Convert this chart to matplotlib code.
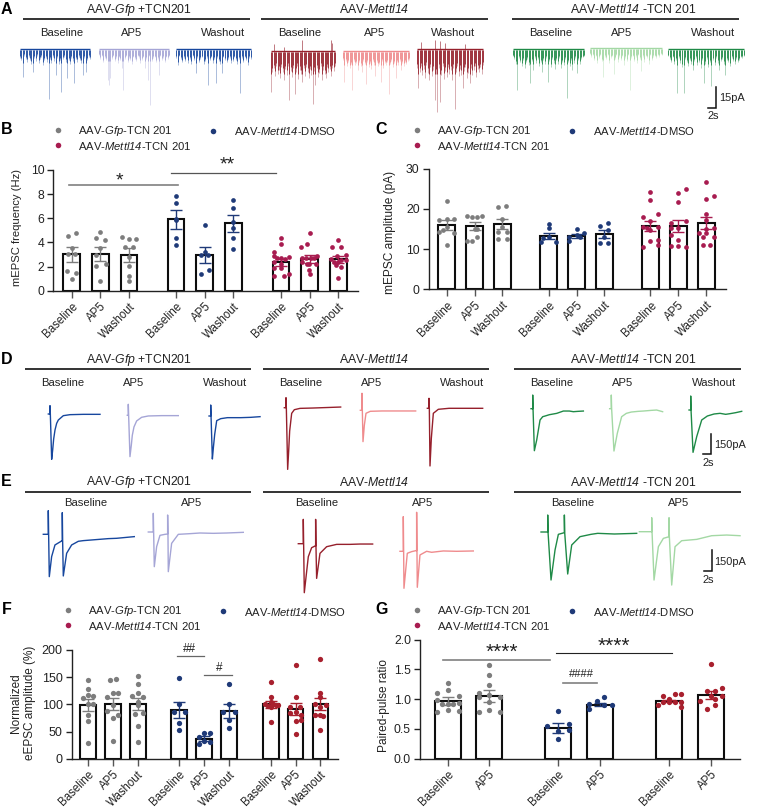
import matplotlib
matplotlib.use("Agg")
import matplotlib.pyplot as plt

plt.rcParams['font.family'] = ['Liberation Sans', 'DejaVu Sans']
plt.rcParams['mathtext.fontset'] = 'custom'
plt.rcParams['mathtext.rm'] = 'Liberation Sans'
plt.rcParams['mathtext.it'] = 'Liberation Sans:italic'
# digits stay upright in mathtext italics, so the italic face is mapped on to \mathbf
plt.rcParams['mathtext.bf'] = 'Liberation Sans:italic'

W, H = 761, 810
GRAY, NAVY, PINK, BRICK = '#7d7d7d', '#1f3a78', '#a81c50', '#a8202e'
BLUE, LAV, DRED, LRED, GREEN, LGREEN = '#17479e', '#a5a5d6', '#96202c', '#ef8b8d', '#1f8a47', '#a3d8a4'
TXT = '#222222'

# ---------- bar panels ----------
LABELS3 = ['Baseline', 'AP5', 'Washout'] * 3
LABELS2 = ['Baseline', 'AP5'] * 3

B_MEAN = [3.0, 3.05, 2.95, 5.9, 2.93, 5.6, 2.35, 2.65, 2.6]
B_SEM = [0.6, 0.6, 0.6, 0.75, 0.65, 0.7, 0.3, 0.33, 0.3]
B_VALUES = [
    [4.53, 4.78, 3.56, 3.0, 3.0, 1.6, 1.5, 0.95],
    [4.86, 4.4, 4.2, 3.5, 2.95, 2.25, 2.05, 0.77],
    [4.45, 4.25, 4.25, 3.65, 3.65, 2.8, 2.07, 1.2, 0.77],
    [7.85, 7.25, 5.9, 5.85, 4.35, 3.78],
    [5.45, 3.2, 2.95, 2.95, 1.7, 1.4],
    [7.55, 6.85, 5.7, 5.2, 4.4, 3.45],
    [4.37, 3.87, 3.17, 2.87, 2.7, 2.8, 2.6, 2.7, 2.4, 2.2, 1.4, 1.85, 1.85, 1.2, 1.2],
    [4.8, 3.9, 3.65, 2.75, 2.75, 2.75, 2.75, 2.85, 2.4, 2.2, 2.25, 1.7, 1.35, 2.2],
    [4.17, 3.6, 3.65, 2.95, 2.9, 2.6, 2.55, 2.55, 2.1, 2.0, 1.08, 2.4, 2.4],
]
B_JITTER = [
    [-11, 12, 0, -11, 11, -13, 13, 0],
    [0, -13, 13, 0, -12, 17, -12, 0],
    [-22, 0, 22, 11, -11, 0, 0, 0, 0],
    [0, 0, 0, 0, 0, 0],
    [0, 0, -11, 11, 12, -11],
    [0, 0, 0, 0, 0, 0],
    [0, 0, -22, -22, 0, 23, 13, -12, -22, 0, 23, -22, 0, -22, 8],
    [0, -7, -27, 13, -12, -22, 3, 23, -22, -2, 18, -2, 0, -9],
    [0, -18, 7, 22, -3, -23, 7, 22, -8, 7, 0, -13, 0],
]
C_MEAN = [16.0, 15.8, 16.2, 13.3, 13.2, 13.8, 15.7, 15.7, 16.4]
C_SEM = [1.2, 1.0, 1.2, 0.8, 0.5, 1.0, 1.3, 1.5, 1.5]
C_VALUES = [
    [22.0, 17.2, 17.5, 17.4, 14.3, 14.7, 14.1, 15.4, 11.1],
    [18.2, 17.9, 18.1, 18.2, 15.0, 12.1, 14.9, 12.1, 13.1],
    [20.4, 20.6, 17.4, 14.3, 14.3, 15.6, 12.5, 12.5],
    [16.2, 15.2, 11.8, 11.8, 13.1, 12.7],
    [15.0, 12.1, 13.5, 13.9, 13.1, 13.0],
    [16.6, 15.7, 14.7, 13.1, 11.4, 11.4],
    [24.2, 22.2, 18.7, 17.9, 16.9, 15.4, 15.6, 14.7, 12.0, 10.4, 12.3, 11.0, 15.2],
    [24.0, 24.9, 21.6, 17.1, 16.4, 15.2, 15.2, 13.5, 12.3, 10.8, 10.4, 10.8],
    [26.7, 23.3, 22.4, 18.8, 17.2, 14.1, 15.2, 15.0, 12.9, 13.9, 10.9, 10.9, 13.1],
]
C_JITTER = [
    [0, -22, 0, 22, -22, -10, 22, 0, 0],
    [-22, -7, 8, 21, 0, -22, 8, -7, 8],
    [-13, 12, 0, -13, 13, 0, -13, 13],
    [0, 0, -22, 21, 0, -16],
    [0, -23, 0, 23, -23, 11],
    [12, -13, 12, 0, -13, 12],
    [0, 0, 22, -21, 0, -21, 22, 0, 0, -21, 22, 22, -11],
    [0, 22, 0, 22, -22, 0, -22, -22, 0, 0, 22, -22],
    [0, 22, 0, 0, 0, -22, 22, 0, 22, 0, -11, 11, -11],
]
F_MEAN = [99, 100, 100, 89, 37, 88, 100, 91, 101]
F_SEM = [11, 11, 11, 15, 5, 13, 6, 11, 11]
F_VALUES = [
    [144, 128, 111, 115, 117, 100, 100, 80, 70, 29.5],
    [145, 147, 121, 113, 121, 99, 88, 80, 74, 32],
    [153, 137, 121, 115, 114, 105, 99, 85, 82, 60, 31],
    [149, 100, 86, 86, 65, 53],
    [48, 48, 40, 33, 31, 27],
    [138, 100, 86, 86, 71, 56],
    [141, 113, 100, 99, 105, 100, 97, 99, 96, 67],
    [172, 113, 96, 96, 86, 85, 80, 70, 71, 45],
    [183, 121, 113, 100, 99, 96, 80, 80, 78, 52],
]
F_JITTER = [
    [0, 0, -16, 16, 0, 0, 16, 0, 0, 0],
    [-9, 8, 0, -17, 16, 0, -17, 16, 0, 0],
    [0, 0, 0, -17, 17, 0, 0, 17, -8, 0, 0],
    [0, 0, -16, 17, 0, 0],
    [0, 17, -16, 0, 17, -16],
    [0, 0, -17, 18, 0, 0],
    [0, 0, -16, 16, 0, 8, -7, 23, 0, 0],
    [0, 0, -16, 14, 0, -16, 17, 0, 17, 0],
    [0, 0, 0, -16, 16, 0, -16, 0, 9, 0],
]
G_MEAN = [0.97, 1.06, 0.52, 0.91, 0.97, 1.07]
G_SEM = [0.07, 0.10, 0.08, 0.03, 0.02, 0.07]
G_VALUES = [
    [1.28, 1.15, 1.1, 1.06, 0.98, 0.93, 0.92, 0.92, 0.92, 0.78, 0.82, 0.8],
    [1.57, 1.4, 1.24, 1.11, 1.07, 1.03, 0.78, 0.82, 0.79, 0.96, 1.04],
    [0.81, 0.55, 0.59, 0.47, 0.49, 0.33],
    [1.03, 0.97, 0.92, 0.83, 0.9, 0.9],
    [1.06, 1.09, 1.09, 1.01, 0.9, 0.96, 0.95, 0.95, 0.96, 0.87],
    [1.59, 1.18, 1.13, 1.14, 1.05, 1.05, 0.97, 1.0, 0.9, 0.83],
]
G_JITTER = [
    [0, 0, -33, 34, -33, 34, 0, 17, -17, -33, 0, 34],
    [0, 0, 0, -32, 0, -32, -32, 0, 33, 0, 33],
    [0, -33, 33, 0, 33, 0],
    [12, -10, -32, -32, 12, 35],
    [-18, 16, 34, -1, -33, -18, -1, 16, 34, 34],
    [0, 33, 12, -13, 33, 0, -33, 12, 12, -11],
]

B_POS = [0, 1, 2, 3.65, 4.65, 5.65, 7.31, 8.31, 9.31]
C_POS = [0, 1, 2, 3.66, 4.66, 5.65, 7.3, 8.3, 9.3]
F_POS = [0, 1, 2, 3.67, 4.67, 5.67, 7.35, 8.35, 9.35]
G_POS = [0, 1, 2.66, 3.66, 5.33, 6.33]


def add_px_axes(left, right, top, bottom):
    return fig.add_axes([left / W, 1 - bottom / H, (right - left) / W, (bottom - top) / H])


def bars(ax, pos, mean, sem, values, jitter, colors, unit, width, labels, yticks, ylim, xlim, fmt, ms, ysize):
    ax.bar(pos, mean, width=width, facecolor='white', edgecolor='#0d0d0d', linewidth=1.5, zorder=2)
    for p, m, s, vals, jit, c in zip(pos, mean, sem, values, jitter, colors):
        ax.plot([p + j / unit for j in jit], vals, 'o', color=c, ms=ms, mew=0, zorder=3)
        ax.errorbar([p], [m], yerr=[s], color=c, lw=1.0, capsize=4, capthick=1.0, zorder=4)
    ax.set_xlim(*xlim)
    ax.set_ylim(*ylim)
    ax.set_xticks(pos)
    ax.set_xticklabels(labels, rotation=45, ha='right', rotation_mode='anchor', fontsize=8.3, color=TXT)
    ax.set_yticks(yticks)
    ax.set_yticklabels([fmt.format(t) for t in yticks], fontsize=ysize, color=TXT)
    ax.tick_params(axis='x', length=5, width=1, color='#555555', pad=2)
    ax.tick_params(axis='y', length=4.5, width=1, color='#222222', pad=2)
    for s in ['top', 'right']:
        ax.spines[s].set_visible(False)
    for s in ['left', 'bottom']:
        ax.spines[s].set_linewidth(1)
        ax.spines[s].set_color('#222222')
    ax.patch.set_alpha(0)


def sig(ax, x0, x1, y, color, lw, txt, tx, ty, size=11):
    ax.plot([x0, x1], [y, y], color=color, lw=lw, clip_on=False, zorder=5)
    ax.text(tx, ty, txt, ha='center', va='center', fontsize=size, color='#222222', clip_on=False)


fig = plt.figure(figsize=(W / 100, H / 100), dpi=100, facecolor='white')

c_bcf = [GRAY] * 3 + [NAVY] * 3 + [PINK] * 3
c_f = [GRAY] * 3 + [NAVY] * 3 + [BRICK] * 3
c_g = [GRAY] * 2 + [NAVY] * 2 + [BRICK] * 2

axB = add_px_axes(53.3, 358, 170, 290.7)
bars(axB, B_POS, B_MEAN, B_SEM, B_VALUES, B_JITTER, c_bcf, 85.8, 0.58, LABELS3, [0, 2, 4, 6, 8, 10], (0, 10), (-0.64, 10.0), '{}', 3.4, 8.8)
sig(axB, -0.09, 3.72, 8.76, '#808080', 1.2, '*', 1.67, 9.05, 14)
sig(axB, 3.46, 7.12, 9.77, '#555555', 0.9, '**', 5.42, 10.4, 14)

axC = add_px_axes(428.7, 725.7, 168.7, 289.3)
bars(axC, C_POS, C_MEAN, C_SEM, C_VALUES, C_JITTER, c_bcf, 83.7, 0.6, LABELS3, [0, 10, 20, 30], (0, 30), (-0.645, 10.0), '{}', 3.4, 8.8)

axF = add_px_axes(71.7, 338.3, 650, 758.7)
bars(axF, F_POS, F_MEAN, F_SEM, F_VALUES, F_JITTER, c_f, 74.6, 0.63, LABELS3, [0, 50, 100, 150, 200], (0, 200), (-0.657, 10.07), '{}', 3.8, 9)
sig(axF, 3.6, 4.68, 189, '#666666', 0.9, '##', 4.08, 202, 8.5)
sig(axF, 4.68, 5.78, 154, '#666666', 0.9, '#', 5.26, 167, 8.5)

axG = add_px_axes(420, 740, 639.7, 758.7)
bars(axG, G_POS, G_MEAN, G_SEM, G_VALUES, G_JITTER, c_g, 124.7, 0.62, LABELS2, [0, 0.5, 1.0, 1.5, 2.0], (0, 2), (-0.666, 7.03), '{:.1f}', 3.8, 8.8)
sig(axG, -0.12, 2.46, 1.66, '#808080', 1.2, '****', 1.3, 1.79, 15)
sig(axG, 2.6, 5.39, 1.77, '#222222', 0.8, '****', 4.0, 1.89, 15)
sig(axG, 2.78, 3.6, 1.28, '#808080', 1.2, '####', 3.22, 1.42, 8)

# ---------- overlay ----------
ov = fig.add_axes([0, 0, 1, 1], facecolor='none', zorder=10)
ov.set_xlim(0, W)
ov.set_ylim(H, 0)
ov.axis('off')

GFP = 'AAV-$\\mathbf{Gfp}$ +TCN201'
M14 = 'AAV-$\\mathbf{Mettl14}$'
M14T = 'AAV-$\\mathbf{Mettl14}$ -TCN 201'
L1 = 'AAV-$\\mathbf{Gfp}$-TCN 201'
L2 = 'AAV-$\\mathbf{Mettl14}$-DMSO'
L3 = 'AAV-$\\mathbf{Mettl14}$-TCN 201'

SUB3 = ['Baseline', 'AP5', 'Washout']
SUB2 = ['Baseline', 'AP5']


def header(y_rule, y_title, y_sub, spans, centers, subs, subx):
    for (a, b), c, t in zip(spans, centers, [GFP, M14, M14T]):
        ov.plot([a, b], [y_rule, y_rule], color='#111111', lw=1.2, solid_capstyle='butt')
        ov.text(c, y_title, t, ha='center', va='center', fontsize=8.8, color=TXT)
    for x, s in zip(subx, subs):
        ov.text(x, y_sub, s, ha='center', va='center', fontsize=8.1, color=TXT)


header(19, 9.5, 33, [(23, 250), (261, 488), (512, 739)], [139, 374, 633], SUB3 * 3,
       [62, 132, 223, 300, 375, 453, 551, 622, 713])
header(369, 359.5, 383, [(25, 251), (263, 489), (514, 741)], [139, 374, 633], SUB3 * 3,
       [63, 134, 225, 301, 372, 462, 552, 623, 714])
header(492, 482, 503.5, [(25, 251), (263, 489), (514, 741)], [139, 374, 633], SUB2 * 3,
       [86, 192, 317, 423, 573, 679])


def scale(xv, y0, y1, xh, l1, lx, ly, sx, sy):
    ov.plot([xh, xv, xv], [y1, y1, y0], color='#111111', lw=1.1, solid_joinstyle='miter')
    ov.text(lx, ly, l1, ha='left', va='center', fontsize=7.9, color=TXT)
    ov.text(sx, sy, '2s', ha='center', va='center', fontsize=7.9, color=TXT)


scale(716, 87, 107.5, 708, '15pA', 719, 98, 713, 116)
scale(711, 433.5, 454, 703, '150pA', 714, 445, 708, 463)
scale(712, 550, 571, 704, '150pA', 714, 562, 708, 580)

for s, x, y in [('A', 1, 9), ('B', 1, 129.5), ('C', 375, 129.5), ('D', 1, 359.5), ('E', 1, 481), ('F', 2, 610), ('G', 375, 610)]:
    ov.text(x, y, s, fontsize=11.5, fontweight='bold', ha='left', va='center', color='#000000')


def legend(x1, x2, t1, t2, y1, y2, y3, c3):
    ov.plot([x1], [y1], 'o', color=GRAY, ms=4, mew=0)
    ov.plot([x2], [y2], 'o', color=NAVY, ms=4, mew=0)
    ov.plot([x1], [y3], 'o', color=c3, ms=4, mew=0)
    ov.text(t1, y1 + 0.5, L1, va='center', fontsize=8.1, color=TXT)
    ov.text(t2, y2 + 0.5, L2, va='center', fontsize=8.1, color=TXT)
    ov.text(t1, y3 + 0.5, L3, va='center', fontsize=8.1, color=TXT)


legend(58, 213, 78, 234, 130, 130.5, 145, PINK)
legend(416.7, 572, 437, 592.7, 130, 130.5, 145, PINK)
legend(68, 223, 88, 244, 610, 611, 625, PINK)
legend(416.7, 572, 437, 592.7, 610, 611, 625, PINK)

for txt, x, y, fs, ls in [('mEPSC frequency (Hz)', 17, 228, 8.1, 1.15), ('mEPSC amplitude (pA)', 390, 232, 8.6, 1.15),
                          ('Normalized\neEPSC amplitude (%)', 23, 703, 8.5, 1.3), ('Paired-pulse ratio', 384, 706, 8.6, 1.15)]:
    ov.text(x, y, txt, rotation=90, ha='center', va='center', fontsize=fs, color=TXT, linespacing=ls, multialignment='center')

# ---------- mEPSC traces (panel A): spike depths, px below baseline ----------
A1 = [8, 10, 27, 6, 9, 12, 7, 10, 14, 22, 8, 11, 6, 13, 9, 7, 15, 10, 8, 12, 49, 9, 13, 7, 11, 25, 8, 14, 10, 42,
      9, 7, 12, 28, 10, 14, 8, 11, 33, 9, 12, 7, 10, 13, 25, 8, 22, 10, 7, 9]
A2 = [5, 9, 6, 12, 8, 10, 30, 35, 28, 9, 6, 11, 8, 13, 7, 10, 18, 40, 9, 6, 12, 8, 10, 14, 7, 9, 11, 6, 8, 13,
      10, 7, 18, 9, 30, 6, 55, 11, 8, 7, 12, 9, 25, 6, 10, 8, 12, 7, 9, 6]
A3 = [8, 15, 6, 9, 12, 8, 11, 7, 13, 9, 14, 6, 10, 23, 8, 12, 9, 7, 14, 11, 8, 35, 10, 7, 13, 9, 33, 8, 11, 14,
      23, 7, 10, 12, 9, 8, 13, 11, 7, 10, 14, 9, 43, 8, 12, 7, 10, 15, 8, 9]
A4 = [40, 20, 16, 24, 14, 22, 18, 26, 15, 20, 28, 17, 23, 14, 48, 19, 25, 16, 42, 20, 14, 27, 18, 22, 30, 16, 24, 15, 20, 26,
      17, 23, 52, 19, 33, 16, 25, 21, 14, 28, 18, 22, 26, 15, 20, 17, 24, 16, 19, 14]
A5 = [8, 30, 9, 14, 10, 16, 12, 38, 9, 13, 11, 18, 10, 14, 20, 9, 12, 32, 10, 15, 11, 17, 9, 13, 24, 10, 14, 12, 30, 9,
      16, 11, 13, 10, 42, 12, 9, 15, 11, 26, 10, 13, 9, 18, 11, 14, 10, 12, 9, 8]
A6 = [18, 38, 22, 16, 25, 19, 28, 15, 23, 30, 17, 26, 20, 50, 24, 62, 18, 52, 25, 16, 29, 21, 27, 17, 24, 20, 30, 18, 59, 22,
      16, 26, 19, 25, 38, 21, 17, 28, 23, 33, 18, 25, 20, 16, 27, 19, 22, 17, 24, 15]
A7 = [6, 9, 14, 40, 8, 12, 16, 10, 18, 12, 9, 15, 33, 11, 20, 8, 13, 9, 16, 12, 22, 10, 14, 8, 32, 11, 17, 9, 13, 19,
      10, 14, 8, 18, 12, 15, 9, 48, 12, 16, 10, 20, 13, 8, 23, 10, 14, 9, 7, 6]
A8 = [5, 8, 6, 11, 7, 14, 9, 6, 12, 28, 8, 10, 6, 14, 9, 7, 25, 10, 6, 13, 8, 11, 7, 16, 9, 12, 6, 41, 9, 7,
      12, 8, 14, 6, 10, 22, 8, 13, 7, 9, 15, 6, 11, 8, 7, 9, 6, 8, 5, 6]
A9 = [6, 9, 12, 7, 14, 10, 43, 8, 13, 17, 43, 9, 12, 16, 10, 14, 20, 11, 8, 15, 12, 18, 10, 33, 14, 9, 17, 12, 36, 10,
      15, 8, 13, 20, 11, 9, 14, 25, 10, 12, 16, 8, 11, 14, 9, 12, 10, 7, 8, 6]
A4_UP_SLOTS = [2, 10, 24, 46, 47]
A4_UP = [8, 5, 12, 12, 9]
A6_UP_SLOTS = [3, 13, 17, 21, 36]
A6_UP = [8, 10, 9, 7, 6]
A_TRACES = [A1, A2, A3, A4, A5, A6, A7, A8, A9]
A_X = [(20, 90), (99, 169), (176, 251), (271, 335), (343, 409), (417, 483), (513, 584), (590, 662), (668, 744)]
A_Y = [49.5, 50, 50, 52, 52, 50, 50, 49, 50]
A_C = [BLUE, LAV, BLUE, DRED, LRED, DRED, GREEN, LGREEN, GREEN]
A_BAND = [13, 11, 13, 22, 13, 24, 14, 11, 15]

for tr, (x0, x1), y, c, band in zip(A_TRACES, A_X, A_Y, A_C, A_BAND):
    xs = [x0 + (x1 - x0) * i / (len(tr) - 1) for i in range(len(tr))]
    ov.plot([x0, x1], [y - 0.6, y - 0.6], color=c, lw=1.0, solid_capstyle='butt')
    ov.vlines(xs, y, [y + d for d in tr], color=c, lw=0.6, alpha=0.42)
    ov.vlines(xs, y, [y + min(d * 0.8, band) for d in tr], color=c, lw=0.7, alpha=0.85)

for slots, ups, idx in [(A4_UP_SLOTS, A4_UP, 3), (A6_UP_SLOTS, A6_UP, 5)]:
    x0, x1 = A_X[idx]
    n = len(A_TRACES[idx])
    xs = [x0 + (x1 - x0) * s / (n - 1) for s in slots]
    ov.vlines(xs, A_Y[idx], [A_Y[idx] - u for u in ups], color=A_C[idx], lw=0.6, alpha=0.7)

# ---------- eEPSC traces, time / current samples in picture read-off steps ----------
D1_T = [-5, 0, 0, 1, 5, 8, 11, 15, 20, 25, 40, 60, 100, 150]
D1_I = [0, 0, 25, 0, -136, -108, -75, -48, -28, -18, -5, -2, -1, -1]
D2_T = [-3, 0, 0, 1, 5, 9, 12, 17, 25, 40, 60, 100, 150]
D2_I = [0, 0, 33, 0, -124, -90, -60, -35, -17, -6, -2, -1, -1]
D3_T = [-5, 0, 0, 1, 5, 8, 12, 18, 30, 50, 90, 120, 148]
D3_I = [0, 0, 33, 0, -129, -95, -55, -14, -8, -5, -5, -4, -2]
D4_T = [-5, 0, 0, 1, 5, 8, 11, 17, 25, 42, 80, 164]
D4_I = [0, 0, 30, 0, -185, -130, -70, -17, -6, -2, -1, 2]
D5_T = [-5, 0, 0, 1, 3, 7, 12, 25, 60, 161]
D5_I = [0, 0, 51, 0, -94, -45, -9, -3, -2, -2]
D6_T = [-5, 0, 0, 1, 3, 7, 13, 28, 60, 161]
D6_I = [0, 0, 30, 0, -173, -90, -15, -3, 0, 0]
D7_T = [-5, 0, 0, 1, 5, 12, 22, 30, 37, 50, 72, 92, 110, 122, 135, 152]
D7_I = [0, 0, 41, 0, -126, -94, -34, -24, -22, -18, -14, -7, -7, -9, -8, -7]
D8_T = [-5, 0, 0, 1, 8, 18, 31, 45, 60, 80, 96, 120, 136, 154]
D8_I = [0, 0, 41, 0, -127, -74, -24, -14, -10, -8, -7, -5, -4, -9]
D9_T = [-5, 0, 0, 1, 7, 18, 33, 50, 70, 88, 105, 118, 135, 153]
D9_I = [0, 0, 42, 0, -127, -80, -30, -18, -12, -10, -13, -11, -8, -4]
E1_T = [-15, 0, 0, 1, 3, 10, 20, 40, 42, 42, 43, 45, 55, 70, 90, 105, 130, 155, 180, 205, 258]
E1_I = [0, 0, 71, 0, -127, -67, -32, -20, -20, 65, -20, -125, -57, -32, -21, -19, -17, -15, -13, -12, -7]
E2_T = [-15, 0, 0, 1, 3, 10, 20, 35, 43, 43, 44, 45, 55, 75, 110, 140, 180, 220, 270]
E2_I = [0, 0, 56, 0, -104, -44, -10, -7, -6, 51, -6, -119, -34, -7, -5, -3, -4, -3, -1]
E3_T = [-15, 0, 0, 1, 3, 15, 25, 35, 37, 37, 38, 40, 50, 70, 100, 140, 170, 208]
E3_I = [0, 0, 73, 0, -147, -39, -12, -7, -7, 73, -7, -104, -29, -9, -2, -2, -1, -1]
E4_T = [-10, 0, 0, 1, 2, 12, 25, 38, 40, 40, 41, 42, 50, 70, 85, 120, 160, 210]
E4_I = [0, 0, 104, 0, -111, -6, -1, 2, 2, 117, 2, -108, -11, 0, -3, 1, 0, 1]
E5_T = [-20, 0, 0, 1, 10, 22, 32, 50, 50, 51, 60, 72, 97, 130, 150, 200, 267]
E5_I = [0, 0, 51, 0, -144, -54, -7, -2, 51, -2, -126, -39, -14, -7, -4, -6, -4]
E6_T = [-37, 0, 0, 1, 7, 20, 35, 52, 52, 53, 60, 70, 90, 135, 180, 225, 265]
E6_I = [0, 0, 42, 0, -145, -45, -20, -15, 42, -15, -160, -45, -27, -23, -12, -10, -12]

D_TRACES = [(D1_T, D1_I), (D2_T, D2_I), (D3_T, D3_I), (D4_T, D4_I), (D5_T, D5_I), (D6_T, D6_I), (D7_T, D7_I), (D8_T, D8_I), (D9_T, D9_I)]
D_X = [50, 128.3, 210.7, 286, 362, 429, 532.7, 611.3, 690.7]
D_Y = [414, 415.3, 416, 407.7, 410.3, 408.3, 408.7, 408.7, 410]
E_TRACES = [(E1_T, E1_I), (E2_T, E2_I), (E3_T, E3_I), (E4_T, E4_I), (E5_T, E5_I), (E6_T, E6_I)]
E_X = [48.3, 153.3, 303.3, 403.3, 547.7, 651.7]
E_Y = [534.3, 532, 543.7, 551.3, 532, 531.7]
D_C = [BLUE, LAV, BLUE, DRED, LRED, DRED, GREEN, LGREEN, GREEN]
E_C = [BLUE, LAV, DRED, LRED, GREEN, LGREEN]

for traces, xs, ys, cs in [(D_TRACES, D_X, D_Y, D_C), (E_TRACES, E_X, E_Y, E_C)]:
    for (t, i), x0, y0, c in zip(traces, xs, ys, cs):
        ov.plot([x0 + v / 3 for v in t], [y0 - v / 3 for v in i], color=c, lw=1.0, solid_joinstyle='round')

fig.savefig('out.png', dpi=100, facecolor='white')
